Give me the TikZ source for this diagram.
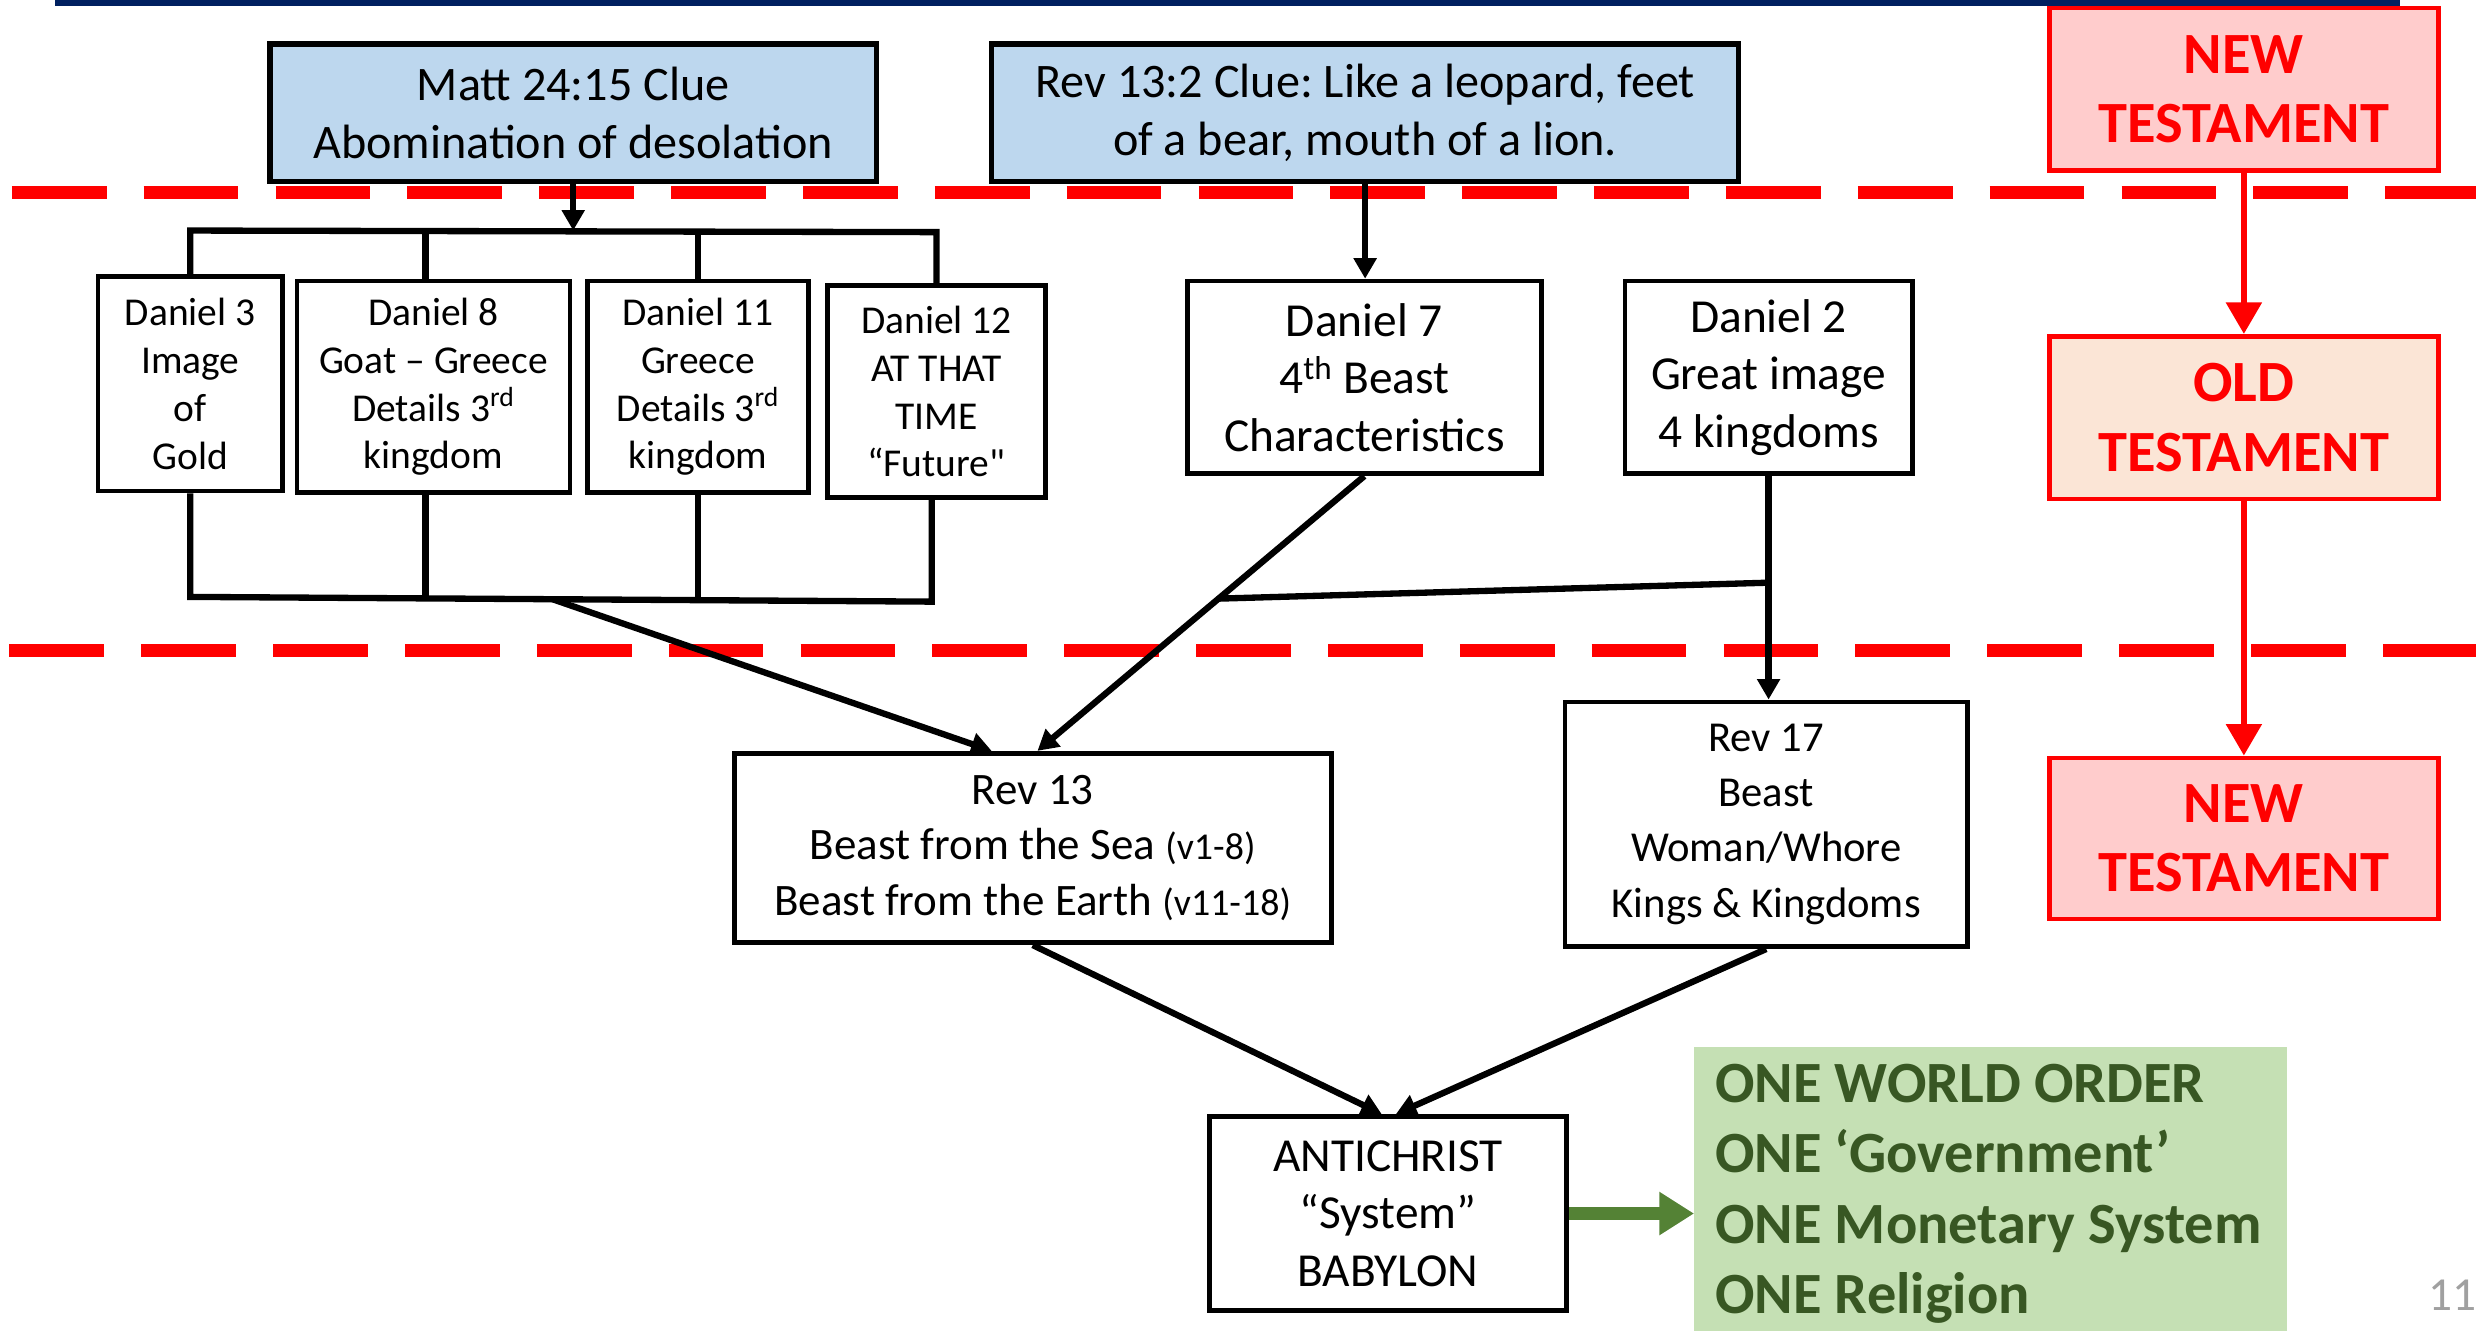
\documentclass[tikz,border=0pt]{standalone}
\usepackage{fontspec}
\setmainfont{Carlito}
\usetikzlibrary{arrows.meta,calc}
\definecolor{navy}{HTML}{002060}
\definecolor{clueblue}{HTML}{BDD7EE}
\definecolor{ntpink}{HTML}{FFCCCC}
\definecolor{otpeach}{HTML}{FBE5D6}
\definecolor{onefill}{HTML}{C5E0B4}
\definecolor{onetext}{HTML}{385723}
\definecolor{onearrow}{HTML}{548235}
\definecolor{pagegray}{HTML}{A0A0A0}
\frenchspacing
\begin{document}
\begin{tikzpicture}[x=1pt,y=-1pt,
  box/.style={draw=black, line width=3pt, fill=white, inner sep=0pt, align=center},
  clue/.style={box, fill=clueblue, line width=3.5pt, font=\fontsize{30.5}{36.5}\selectfont},
  bigbox/.style={box, font=\fontsize{30}{36.5}\selectfont},
  smallbox/.style={box, font=\fontsize{25}{30.3}\selectfont},
  testa/.style={draw=red, line width=3pt, inner sep=0pt, align=center, text=red,
    font=\bfseries\fontsize{37}{44}\selectfont},
  conn/.style={line width=4pt, black},
  arr/.style={conn, -{Triangle[length=13pt,width=14pt]}},
  redarr/.style={line width=4pt, red, -{Triangle[length=20pt,width=22pt]}},
  sepline/.style={red, line width=8pt, dash pattern=on 60pt off 23.5pt}
]
\useasboundingbox (0,0) rectangle (1568,843);
% top navy rule
\fill[navy] (35,0) rectangle (1520,3.5);
% dashed separators
\draw[sepline] (7.5,122) -- (1568,122);
\draw[sepline] (6,412) -- (1568,412);

% clue boxes
\node[clue, minimum width=384pt, minimum height=87pt] (matt) at (363,71.5)
  {Matt 24:15 Clue\\Abomination of desolation};
\node[clue, minimum width=473pt, minimum height=87pt] (rev132) at (864.5,71.5)
  {Rev 13:2 Clue: Like a leopard, feet\\of a bear, mouth of a lion.};

% testament boxes
\node[testa, fill=ntpink, minimum width=246pt, minimum height=103pt] (nt1) at (1421,56.5) {NEW\\TESTAMENT};
\node[testa, fill=otpeach, minimum width=246pt, minimum height=103pt] (ot) at (1421,264.5) {OLD\\TESTAMENT};
\node[testa, fill=ntpink, minimum width=246pt, minimum height=102pt] (nt2) at (1421,531) {NEW\\TESTAMENT};
\draw[redarr] (nt1.south) -- (ot.north);
\draw[redarr] (ot.south) -- (nt2.north);

% Daniel boxes
\node[smallbox, minimum width=117pt, minimum height=136pt] (d3) at (120.5,243) {Daniel 3\\Image\\of\\Gold};
\node[smallbox, minimum width=173pt, minimum height=134pt] (d8) at (274.5,245) {Daniel 8\\Goat – Greece\\Details 3\textsuperscript{rd}\\kingdom};
\node[smallbox, minimum width=140pt, minimum height=134pt] (d11) at (442,245) {Daniel 11\\Greece\\Details 3\textsuperscript{rd}\\kingdom};
\node[smallbox, minimum width=138pt, minimum height=134pt] (d12) at (593,248) {Daniel 12\\AT THAT\\TIME\\“Future\textquotedbl};
\node[bigbox, minimum width=224pt, minimum height=122pt] (d7) at (864,239) {Daniel 7\\4\textsuperscript{th} Beast\\Characteristics};
\node[bigbox, minimum width=182pt, minimum height=122pt] (d2) at (1120,239) {Daniel 2\\Great image\\4 kingdoms};

% Revelation boxes
\node[box, font=\fontsize{28.5}{35}\selectfont, minimum width=378pt, minimum height=120pt] (rev13) at (654,537)
  {Rev 13\\Beast from the Sea {\fontsize{24}{26}\selectfont(v1-8)}\\Beast from the Earth {\fontsize{24}{26}\selectfont(v11-18)}};
\node[box, font=\fontsize{27}{35}\selectfont, minimum width=255pt, minimum height=155pt] (rev17) at (1118.5,522)
  {Rev 17\\Beast\\Woman/Whore\\Kings \& Kingdoms};
\node[bigbox, minimum width=226pt, minimum height=123pt] (anti) at (879,768.5)
  {ANTICHRIST\\“System”\\BABYLON};
\node[fill=onefill, draw=none, minimum width=375pt, minimum height=180pt, inner sep=0pt] (one) at (1260.5,753) {};
\node[anchor=west, inner sep=0pt, align=left, text=onetext, font=\bfseries\fontsize{37}{44.5}\selectfont] (onetxt) at (1086,756)
  {ONE WORLD ORDER\\ONE ‘Government’\\ONE Monetary System\\ONE Religion};
\node[text=pagegray, font=\fontsize{30}{34}\selectfont, inner sep=0pt] (pg) at (1553,820) {11};

% top bracket
\coordinate (tbL) at (120.5,146);
\coordinate (tbR) at (593,147);
\coordinate (d8t) at ($(d8.north)+(-5,0)$);
\draw[conn, line join=miter] (d3.north) -- (tbL) -- (tbR) -- (d12.north);
\draw[conn] (d8t) -- (d8t |- tbL);
\draw[conn] (d11.north) -- (d11.north |- tbL);
\draw[arr] (matt.south) -- (matt.south |- tbL);

% bottom bracket
\coordinate (bbL) at (120.5,378);
\coordinate (bbR) at (590,381);
\coordinate (d8b) at ($(d8.south)+(-5,0)$);
\draw[conn, line join=miter] (d3.south) -- (bbL) -- (bbR) -- (bbR |- d12.south);
\draw[conn] (d8b) -- (d8b |- bbL);
\draw[conn] (d11.south) -- (d11.south |- bbR);
\coordinate (bbM) at (350,379.5);
\draw[arr] (bbM) -- ($(rev13.north)+(-26,0)$);

% Daniel 7 / Daniel 2 to Revelation
\draw[arr] (rev132.south) -- (rev132.south |- d7.north);
\coordinate (r13b) at ($(rev13.north)+(3,0)$);
\draw[arr] (d7.south) -- (r13b);
\coordinate (j7) at ($(d7.south)!0.446!(r13b)$);
\coordinate (jy) at (0,369);
\draw[conn] (j7) -- (d2.south |- jy);
\draw[arr] (d2.south) -- (d2.south |- rev17.north);

% to antichrist
\draw[arr] (rev13.south) -- ($(anti.north)+(-4,0)$);
\draw[arr] (rev17.south) -- ($(anti.north)+(5,0)$);
\draw[line width=8pt, onearrow, -{Triangle[length=22pt,width=26pt]}] (anti.east) -- (anti.east -| one.west);
\end{tikzpicture}
\end{document}
